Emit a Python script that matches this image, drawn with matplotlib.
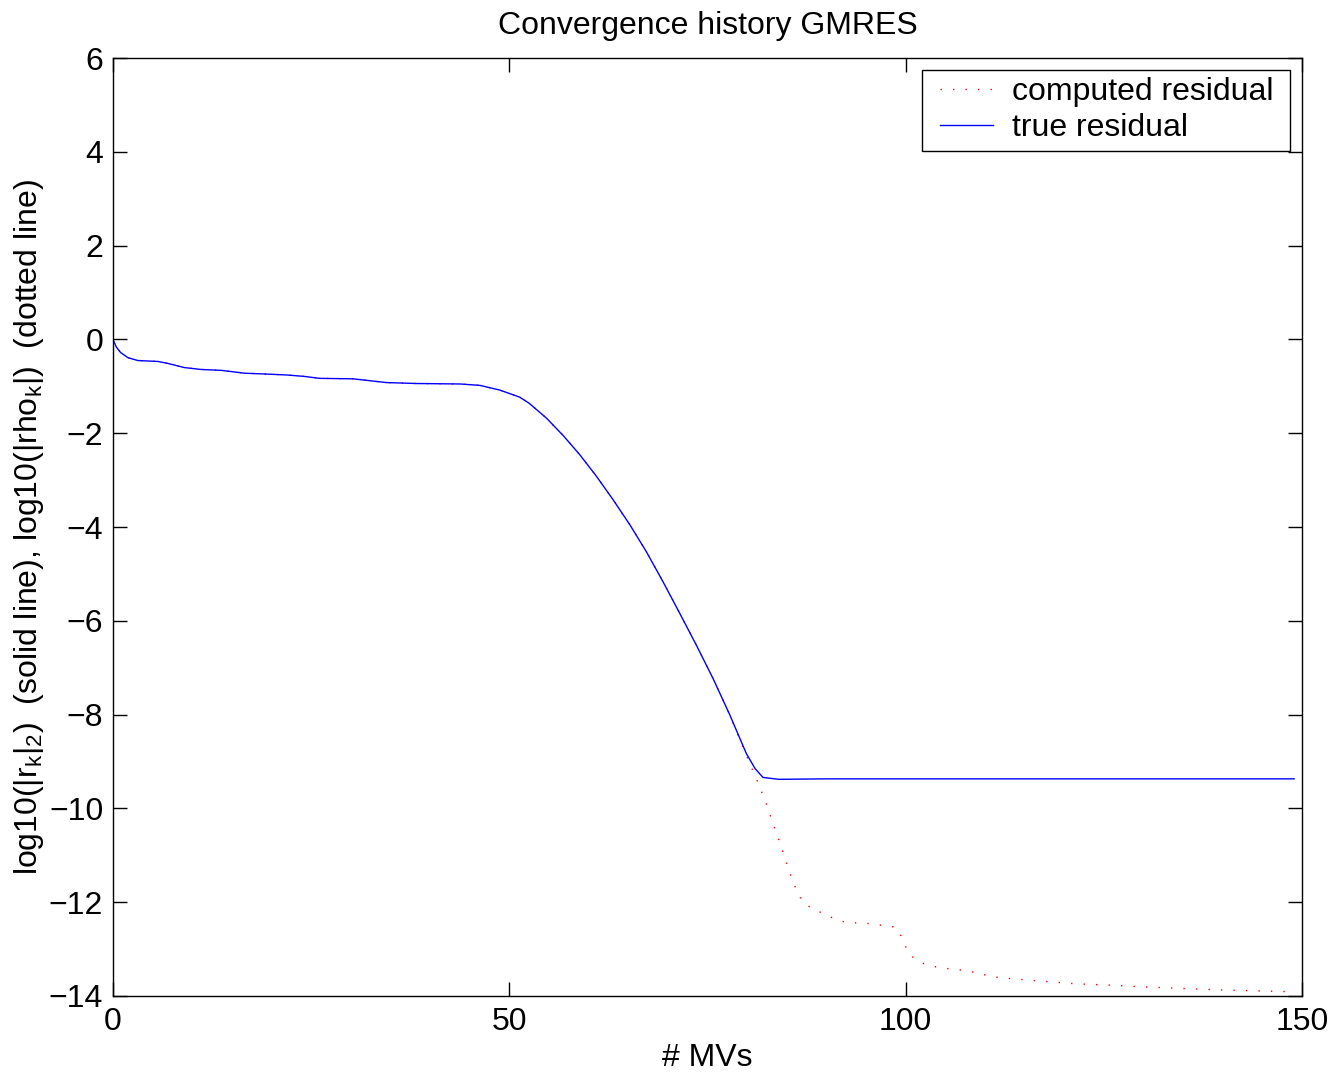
import matplotlib
matplotlib.use("Agg")
import matplotlib.pyplot as plt
from matplotlib.legend_handler import HandlerLine2D

plt.rcParams['font.family'] = ['Liberation Sans', 'DejaVu Sans']
plt.rcParams['mathtext.fontset'] = 'custom'
plt.rcParams['mathtext.rm'] = 'Liberation Sans'
plt.rcParams['mathtext.it'] = 'Liberation Sans'
plt.rcParams['mathtext.default'] = 'rm'

# true residual log10(||r_k||_2)
mv_true = [0, 0.42, 0.97, 1.9, 3.15, 5.7, 6.9, 9.0, 11.1, 13.7, 16.6, 19.6, 22.1, 24.2,
           26.1, 30.3, 34.5, 38.3, 43.8, 46.3, 48.8, 51.3, 52.5, 54.7, 56.8, 58.9, 61.0,
           63.1, 65.2, 67.3, 69.4, 71.5, 73.6, 75.7, 77.8, 79.9, 81.0, 82.0, 84.0, 90.0,
           100.0, 110.0, 120.0, 130.0, 140.0, 149.0]
res_true = [0.0, -0.16, -0.28, -0.39, -0.45, -0.47, -0.51, -0.60, -0.64, -0.66, -0.72, -0.74,
            -0.76, -0.79, -0.83, -0.84, -0.92, -0.94, -0.95, -0.98, -1.08, -1.23, -1.36,
            -1.68, -2.05, -2.46, -2.92, -3.42, -3.95, -4.53, -5.17, -5.84, -6.52, -7.23,
            -8.00, -8.83, -9.15, -9.34, -9.38, -9.37, -9.37, -9.37, -9.37, -9.37, -9.37, -9.37]

# computed residual log10(|rho_k|)
mv_comp = [0, 0.42, 0.97, 1.9, 3.15, 5.7, 6.9, 9.0, 11.1, 13.7, 16.6, 19.6, 22.1, 24.2,
           26.1, 30.3, 34.5, 38.3, 43.8, 46.3, 48.8, 51.3, 52.5, 54.7, 56.8, 58.9, 61.0,
           63.1, 65.2, 67.3, 69.4, 71.5, 73.6, 75.7, 77.8, 80.1, 81.3, 82.4, 83.4, 84.4,
           85.3, 86.4, 87.2, 88.5, 89.9, 91.2, 92.7, 94.2, 95.7, 97.2, 98.7, 99.4, 100.0,
           100.8, 102.1, 103.5, 105.0, 106.6, 108.0, 109.5, 111.0, 112.5, 114.0, 116.9,
           121.5, 126.0, 130.6, 135.1, 139.7, 144.2, 149.0]
res_comp = [0.0, -0.16, -0.28, -0.39, -0.45, -0.47, -0.51, -0.60, -0.64, -0.66, -0.72, -0.74,
            -0.76, -0.79, -0.83, -0.84, -0.92, -0.94, -0.95, -0.98, -1.08, -1.23, -1.36,
            -1.68, -2.05, -2.46, -2.92, -3.42, -3.95, -4.53, -5.17, -5.84, -6.52, -7.23,
            -8.00, -8.95, -9.42, -9.89, -10.38, -10.86, -11.34, -11.82, -12.03, -12.16,
            -12.26, -12.37, -12.44, -12.44, -12.46, -12.50, -12.53, -12.71, -12.95, -13.16,
            -13.30, -13.37, -13.41, -13.44, -13.47, -13.53, -13.59, -13.62, -13.64, -13.68,
            -13.74, -13.77, -13.81, -13.84, -13.87, -13.89, -13.91]

xticks = [0, 50, 100, 150]
yticks = [-14, -12, -10, -8, -6, -4, -2, 0, 2, 4, 6]

fig = plt.figure(figsize=(13.35, 10.75), dpi=100)
ax = fig.add_axes([0.0846, 0.0735, 0.8907, 0.8725])

l1, = ax.plot(mv_comp, res_comp, color='red', lw=1.0, linestyle=(0, (1, 8)), label='computed residual ')
l2, = ax.plot(mv_true, res_true, color='blue', lw=1.0, label='true residual')

ax.set_xlim(0, 150)
ax.set_ylim(-14, 6)
ax.set_xticks(xticks)
ax.set_yticks(yticks)
ax.tick_params(direction='in', length=10, width=1, top=True, right=True, labelsize=23)
ax.tick_params(axis='x', pad=8)
ax.tick_params(axis='y', pad=7)
for s in ax.spines.values():
    s.set_linewidth(1.0)

ax.set_title('Convergence history GMRES', fontsize=23, pad=17)
ax.set_xlabel('# MVs', fontsize=23, labelpad=4)
ax.set_ylabel('log10(|r$_k$|$_2$)  (solid line), log10(|rho$_k$|)  (dotted line)', fontsize=23, labelpad=2)

hm = {l1: HandlerLine2D(numpoints=2, marker_pad=0.35), l2: HandlerLine2D(numpoints=2, marker_pad=0.35)}
leg = ax.legend(handler_map=hm, loc='upper right', fontsize=23, frameon=True, fancybox=False,
                framealpha=1, edgecolor='black', borderaxespad=0.37, handlelength=2.36,
                handletextpad=0.25, labelspacing=0.19, borderpad=0.23)
leg.get_frame().set_linewidth(1.0)

fig.savefig('out.png', dpi=100)
